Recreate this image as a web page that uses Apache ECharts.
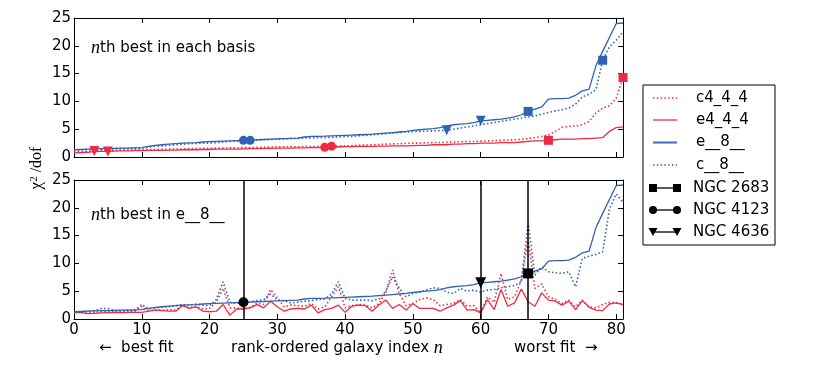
<!DOCTYPE html>
<html><head><meta charset="utf-8">
<script src="https://cdn.jsdelivr.net/npm/echarts@6/dist/echarts.min.js"></script>
<style>html,body{margin:0;padding:0;background:#fff}#c{width:830px;height:376px}</style>
</head><body><div id="c"></div>
<script>
// ---------- data ----------
const seriesNames = ['c4_4_4', 'e4_4_4', 'e__8__', 'c__8__'];
const xTickLabels = [0, 10, 20, 30, 40, 50, 60, 70, 80];
const yTickLabels = [0, 5, 10, 15, 20, 25];

// e__8__ chi2/dof, ordered by its own rank (identical in both panels)
const e8 = [1.3,1.35,1.4,1.45,1.5,1.5,1.55,1.6,1.6,1.65,
 1.7,1.9,2.1,2.2,2.3,2.4,2.5,2.55,2.6,2.7,
 2.75,2.8,2.85,2.9,2.95,3.0,3.05,3.1,3.15,3.2,
 3.25,3.3,3.35,3.4,3.6,3.7,3.72,3.75,3.8,3.85,
 3.9,3.95,4.0,4.05,4.1,4.2,4.3,4.4,4.5,4.6,
 4.8,4.9,5.0,5.1,5.3,5.6,5.8,5.9,6.0,6.2,
 6.5,6.6,6.7,6.8,7.0,7.2,7.6,8.2,8.6,9.0,
 10.4,10.5,10.5,10.6,11.1,11.9,12.2,16.4,19.0,21.5,
 24.0,24.1];

// top panel: nth best in each basis
const topC444 = [0.9,0.95,1.0,1.1,1.15,1.2,1.2,1.25,1.25,1.3,
 1.3,1.35,1.35,1.4,1.4,1.45,1.45,1.5,1.5,1.55,
 1.55,1.6,1.6,1.65,1.65,1.7,1.7,1.75,1.75,1.8,
 1.8,1.85,1.85,1.85,1.9,1.9,1.9,1.95,1.95,2.0,
 2.0,2.05,2.1,2.15,2.2,2.25,2.3,2.35,2.4,2.45,
 2.5,2.5,2.55,2.6,2.6,2.65,2.7,2.75,2.8,2.8,
 2.85,2.9,2.95,3.0,3.05,3.1,3.2,3.3,3.5,3.7,
 4.0,4.6,5.3,5.5,5.6,5.8,6.4,7.9,8.8,9.2,
 10.6,14.3];
const topE444 = [0.75,0.8,0.85,0.95,1.0,1.0,1.05,1.1,1.1,1.15,
 1.15,1.2,1.2,1.2,1.25,1.25,1.3,1.3,1.3,1.35,
 1.35,1.4,1.4,1.4,1.4,1.45,1.5,1.5,1.55,1.55,
 1.6,1.6,1.6,1.65,1.65,1.7,1.7,1.75,1.8,1.8,
 1.85,1.85,1.9,1.9,1.9,1.95,1.95,2.0,2.0,2.0,
 2.05,2.1,2.1,2.2,2.2,2.2,2.3,2.3,2.4,2.4,
 2.5,2.5,2.5,2.6,2.6,2.6,2.7,2.8,2.9,2.9,
 3.0,3.1,3.2,3.2,3.2,3.3,3.3,3.4,3.5,4.6,
 5.3,5.4];
const topC8 = [1.2,1.3,1.3,1.35,1.4,1.45,1.5,1.5,1.55,1.6,
 1.6,1.8,1.9,2.0,2.1,2.2,2.3,2.4,2.45,2.5,
 2.5,2.6,2.7,2.8,2.85,2.9,3.0,3.05,3.1,3.15,
 3.2,3.25,3.3,3.35,3.4,3.45,3.5,3.5,3.55,3.6,
 3.65,3.7,3.8,3.9,4.0,4.1,4.2,4.3,4.4,4.5,
 4.55,4.6,4.65,4.7,4.75,4.8,5.0,5.2,5.4,5.6,
 5.8,6.0,6.2,6.4,6.6,6.8,7.0,7.2,7.4,7.7,
 8.0,8.3,8.5,8.8,9.5,10.8,11.3,12.1,17.4,19.8,
 21.0,22.5];

// bottom panel: ordered by e__8__ rank
const botC444 = [1.2,1.2,1.1,1.2,1.3,1.3,1.3,1.3,1.4,1.4,
 2.2,1.5,1.6,1.6,1.7,1.6,2.5,2.0,2.3,1.8,
 1.9,3.0,5.5,2.0,2.0,1.9,2.1,2.8,2.6,5.3,
 3.8,2.2,2.5,2.4,2.3,2.8,1.8,2.2,4.0,5.8,
 2.0,2.4,2.6,2.5,2.0,2.8,4.8,8.8,4.5,2.4,
 2.8,3.5,3.8,3.5,2.4,2.6,2.8,3.5,2.3,2.4,
 1.1,4.0,3.0,8.2,3.5,4.0,7.0,14.3,5.5,6.3,
 4.0,3.5,2.8,3.4,2.2,3.4,2.2,2.0,2.6,3.0,
 2.9,2.7];
const botE444 = [1.1,1.2,0.95,1.0,1.1,1.15,1.2,1.15,1.2,1.2,
 1.2,1.4,1.6,1.5,1.4,1.4,2.4,1.9,2.2,1.4,
 1.3,1.4,2.6,0.7,1.8,1.8,2.0,2.6,2.0,3.2,
 2.2,1.4,1.8,1.9,1.8,2.5,1.1,1.7,1.9,2.5,
 1.2,2.3,2.5,2.4,1.4,2.5,3.4,1.9,2.6,1.6,
 2.8,1.9,1.9,1.9,1.4,2.0,2.5,3.3,1.6,1.7,
 1.1,3.5,1.7,5.3,2.3,2.9,5.4,3.1,2.3,4.7,
 3.4,3.2,2.5,3.2,1.7,3.3,2.1,1.6,1.5,2.7,
 2.9,2.6];
const botC8 = [1.3,1.3,1.4,1.5,1.9,1.9,1.5,1.5,1.6,1.6,
 2.6,1.8,2.0,2.1,2.2,2.4,2.6,2.5,2.7,2.5,
 2.4,3.5,6.7,3.0,2.8,3.0,3.1,3.3,3.5,4.5,
 3.4,3.3,2.9,3.0,3.2,3.3,3.5,3.6,4.5,6.7,
 3.7,3.4,3.4,3.4,3.3,3.6,5.0,7.6,5.5,4.0,
 4.6,4.8,5.2,5.6,5.5,4.8,4.6,5.5,5.0,5.2,
 4.8,5.2,5.3,5.6,5.8,6.0,6.7,17.3,7.9,9.4,
 8.5,8.3,8.2,8.5,5.8,10.9,11.3,11.6,12.1,19.8,
 22.5,21.0];

// highlighted galaxies and their rank in each basis
const galaxies = ['NGC 2683', 'NGC 4123', 'NGC 4636'];
const rankE8   = [67, 25, 60];
const rankC8   = [78, 26, 55];
const rankE444 = [70, 37, 5];
const rankC444 = [81, 38, 3];

// ---------- styling ----------
const RED = '#ee2b40', BLUE = '#2e63b4';
const SYMS = ['rect', 'circle', 'triangle'];
const SYMROT = [0, 0, 180];
const SYMSIZE = [9, 9, 10];
const DOT = [1.5, 2.3];
const FONT = 'DejaVu Sans';
const FS = 15;

function pts(arr) { return arr.map((v, i) => [i, v]); }

function xAx(gi, pos, labels) {
  return {
    type: 'value', gridIndex: gi, position: pos, min: 0, max: 81, interval: 10,
    axisLine: { show: true, onZero: false, lineStyle: { color: '#000', width: 1 } },
    axisTick: { show: true, inside: true, length: 5, lineStyle: { color: '#000' } },
    axisLabel: { show: labels, color: '#000', fontFamily: FONT, fontSize: FS, margin: 4,
      formatter: v => (xTickLabels.indexOf(v) >= 0 ? String(v) : '') },
    splitLine: { show: false }
  };
}
function yAx(gi, pos, labels) {
  return {
    type: 'value', gridIndex: gi, position: pos, min: 0, max: 25, interval: 5,
    axisLine: { show: true, onZero: false, lineStyle: { color: '#000', width: 1 } },
    axisTick: { show: true, inside: true, length: 5, lineStyle: { color: '#000' } },
    axisLabel: { show: labels, color: '#000', fontFamily: FONT, fontSize: FS, margin: 3,
      formatter: v => (yTickLabels.indexOf(v) >= 0 ? String(v) : '') },
    splitLine: { show: false }
  };
}
function lineSeries(name, data, gi, color, dotted, z) {
  return {
    type: 'line', name, data: pts(data), xAxisIndex: gi * 2, yAxisIndex: gi * 2,
    symbol: 'none', showSymbol: false, silent: true, z: z,
    lineStyle: { color, width: dotted ? 1.6 : 1.3, type: dotted ? DOT : 'solid' }
  };
}

const series = [
  lineSeries('c4_4_4', topC444, 0, RED, true, 2),
  lineSeries('e4_4_4', topE444, 0, RED, false, 2),
  lineSeries('e__8__', e8, 0, BLUE, false, 3),
  lineSeries('c__8__', topC8, 0, BLUE, true, 3),
  lineSeries('c4_4_4', botC444, 1, RED, true, 2),
  lineSeries('e4_4_4', botE444, 1, RED, false, 2),
  lineSeries('e__8__', e8, 1, BLUE, false, 3),
  lineSeries('c__8__', botC8, 1, BLUE, true, 3)
];

galaxies.forEach((g, k) => {
  series.push({
    type: 'scatter', name: g + ' red', xAxisIndex: 0, yAxisIndex: 0, z: 5, silent: true,
    symbol: SYMS[k], symbolRotate: SYMROT[k], symbolSize: SYMSIZE[k],
    itemStyle: { color: RED, opacity: 1 },
    data: [[rankE444[k], topE444[rankE444[k]]], [rankC444[k], topC444[rankC444[k]]]]
  });
  series.push({
    type: 'scatter', name: g + ' blue', xAxisIndex: 0, yAxisIndex: 0, z: 6, silent: true,
    symbol: SYMS[k], symbolRotate: SYMROT[k], symbolSize: SYMSIZE[k],
    itemStyle: { color: BLUE, opacity: 1 },
    data: [[rankE8[k], e8[rankE8[k]]], [rankC8[k], topC8[rankC8[k]]]]
  });
  series.push({
    type: 'scatter', name: g, xAxisIndex: 2, yAxisIndex: 2, z: 6, silent: true,
    symbol: SYMS[k], symbolRotate: SYMROT[k], symbolSize: SYMSIZE[k] + 1,
    itemStyle: { color: '#000', opacity: 1 },
    data: [[rankE8[k], e8[rankE8[k]]]],
    markLine: {
      silent: true, symbol: ['none', 'none'], animation: false,
      label: { show: false },
      lineStyle: { color: '#000', width: 1.5, type: 'solid', opacity: 1 },
      data: [{ xAxis: rankE8[k] }]
    }
  });
});

// ---------- legend (drawn) ----------
const LX = 643, LY = 85, LW = 132, LH = 160;
const rowY = [98, 120, 142.5, 165, 188, 210, 232];
const legendItems = [
  { name: seriesNames[0], color: RED, dash: DOT },
  { name: seriesNames[1], color: RED, dash: null },
  { name: seriesNames[2], color: '#4a78c0', dash: null, w: 2.2 },
  { name: seriesNames[3], color: BLUE, dash: DOT },
  { name: galaxies[0], color: '#000', sym: 0 },
  { name: galaxies[1], color: '#000', sym: 1 },
  { name: galaxies[2], color: '#000', sym: 2 }
];
const graphic = [{
  type: 'rect', shape: { x: LX, y: LY, width: LW, height: LH },
  style: { fill: '#fff', stroke: '#000', lineWidth: 1 }, z: 10
}];
legendItems.forEach((it, i) => {
  const y = rowY[i];
  const x1 = 653, x2 = 677;
  graphic.push({
    type: 'line', shape: { x1, y1: y, x2, y2: y }, z: 11,
    style: { stroke: it.color, lineWidth: it.w || (it.dash ? 1.6 : 1.3), lineDash: it.dash || null }
  });
  if (it.sym !== undefined) {
    [x1, x2].forEach(cx => {
      if (it.sym === 0) {
        graphic.push({ type: 'rect', shape: { x: cx - 4, y: y - 4, width: 8, height: 8 }, style: { fill: '#000' }, z: 12 });
      } else if (it.sym === 1) {
        graphic.push({ type: 'circle', shape: { cx, cy: y, r: 4 }, style: { fill: '#000' }, z: 12 });
      } else {
        graphic.push({ type: 'polygon', shape: { points: [[cx - 4.5, y - 4], [cx + 4.5, y - 4], [cx, y + 4]] }, style: { fill: '#000' }, z: 12 });
      }
    });
  }
  graphic.push({
    type: 'text', x: it.sym !== undefined ? 693 : 696, y: y, z: 12,
    style: { text: it.name, fill: '#000', font: FS + 'px "DejaVu Sans"', textVerticalAlign: 'middle', textAlign: 'left' }
  });
});

const richNT = {
  n: { fontFamily: 'Liberation Serif', fontStyle: 'italic', fontSize: 18, fill: '#000' },
  t: { fontFamily: FONT, fontSize: FS, fill: '#000' }
};
graphic.push({
  type: 'text', x: 91, y: 48, z: 12,
  style: { text: '{n|n}{t|th best in each basis}', textVerticalAlign: 'middle', rich: richNT }
});
graphic.push({
  type: 'text', x: 91, y: 215, z: 12,
  style: { text: '{n|n}{t|th best in e__8__}', textVerticalAlign: 'middle', rich: richNT }
});
graphic.push({
  type: 'text', x: 99, y: 348, z: 12,
  style: { text: '\u2190  best fit', fill: '#000', font: FS + 'px "DejaVu Sans"', textVerticalAlign: 'middle' }
});
graphic.push({
  type: 'text', x: 231, y: 348, z: 12,
  style: { text: '{t|rank-ordered galaxy index }{n|n}', textVerticalAlign: 'middle', rich: richNT }
});
graphic.push({
  type: 'text', x: 514, y: 348, z: 12,
  style: { text: 'worst fit  \u2192', fill: '#000', font: FS + 'px "DejaVu Sans"', textVerticalAlign: 'middle' }
});
graphic.push({
  type: 'text', x: 37, y: 168, rotation: Math.PI / 2, z: 12,
  style: {
    text: '{a|\u03c7}{s|2}{b| /dof}', textAlign: 'center', textVerticalAlign: 'middle',
    rich: { a: { fontFamily: 'Liberation Serif', fontSize: 17, fill: '#000' },
            s: { fontFamily: 'Liberation Serif', fontSize: 11, fill: '#000', verticalAlign: 'top', padding: [0, 0, 6, 0] },
            b: { fontFamily: 'Liberation Serif', fontSize: 16, fill: '#000' } }
  }
});

const option = {
  animation: false,
  backgroundColor: '#fff',
  grid: [
    { left: 74, top: 18, width: 549, height: 139, containLabel: false },
    { left: 74, top: 180, width: 549, height: 139, containLabel: false }
  ],
  xAxis: [xAx(0, 'bottom', false), xAx(0, 'top', false), xAx(1, 'bottom', true), xAx(1, 'top', false)],
  yAxis: [yAx(0, 'left', true), yAx(0, 'right', false), yAx(1, 'left', true), yAx(1, 'right', false)],
  series,
  graphic
};
const chart = echarts.init(document.getElementById('c'));
chart.setOption(option);
</script>
</body></html>
